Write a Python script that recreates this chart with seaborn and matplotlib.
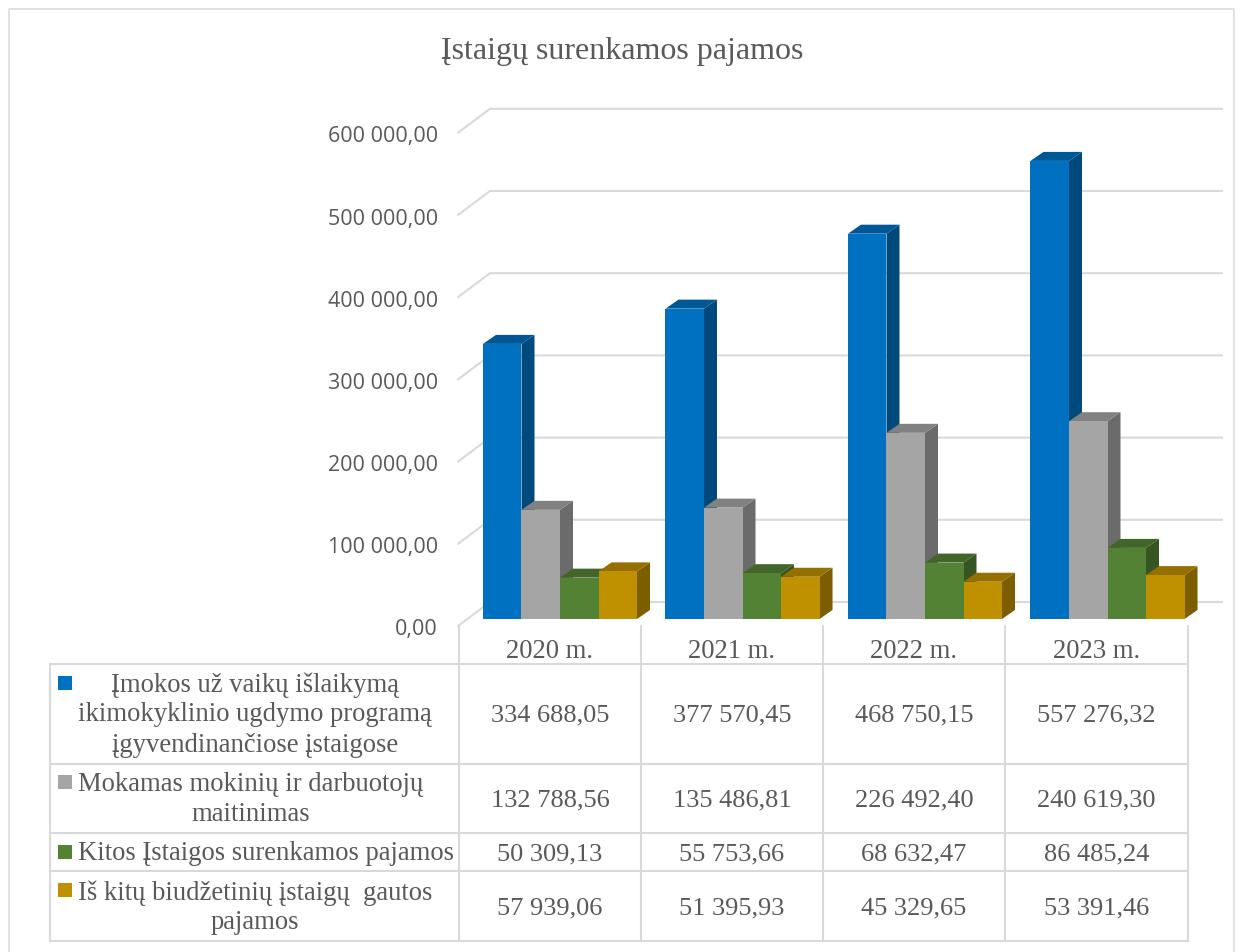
#!/usr/bin/env python3
# -*- coding: utf-8 -*-
import pandas as pd
import seaborn as sns
from matplotlib import pyplot as plt
from matplotlib.patches import Polygon, Rectangle
from matplotlib.transforms import IdentityTransform

title = 'Įstaigų surenkamos pajamos'
years = ['2020 m.', '2021 m.', '2022 m.', '2023 m.']
series_names = ['Įmokos', 'Maitinimas', 'Kitos', 'Iš kitų']
imokos = [334688.05, 377570.45, 468750.15, 557276.32]
maitinimas = [132788.56, 135486.81, 226492.40, 240619.30]
kitos = [50309.13, 55753.66, 68632.47, 86485.24]
is_kitu = [57939.06, 51395.93, 45329.65, 53391.46]
y_ticks = [0, 100000, 200000, 300000, 400000, 500000, 600000]
legend_labels = [
    ['Įmokos už vaikų išlaikymą', 'ikimokyklinio ugdymo programą', 'įgyvendinančiose įstaigose'],
    ['Mokamas mokinių ir darbuotojų', 'maitinimas'],
    ['Kitos Įstaigos surenkamos pajamos'],
    ['Iš kitų biudžetinių įstaigų  gautos', 'pajamos'],
]
colors = ['#0070C0', '#A5A5A5', '#548235', '#BF9000']

W, H = 1240, 953
GRID = '#D9D9D9'
TXT = '#595959'
SCALE = 0.000822  # pixels per unit of value
SERIF = 'Liberation Serif'

sns.set_theme(style='white')
plt.rcParams['font.family'] = ['Liberation Serif', 'DejaVu Sans']


def fmt(v):
    return f'{v:,.2f}'.replace(',', ' ').replace('.', ',')


def shade(hex_color, k):
    r, g, b = plt.matplotlib.colors.to_rgb(hex_color)
    return (r * k, g * k, b * k)


series_values = [imokos, maitinimas, kitos, is_kitu]
df = pd.DataFrame({
    'year': years * len(series_names),
    'series': [s for s in series_names for _ in years],
    'value': imokos + maitinimas + kitos + is_kitu,
})

fig = plt.figure(figsize=(W / 100, H / 100), dpi=100, facecolor='white')

# background layer in pixel coordinates: frame, walls, table
bg = fig.add_axes([0, 0, 1, 1], zorder=0)
bg.set_xlim(0, W)
bg.set_ylim(H - 1, -1)
bg.axis('off')

bg.plot([9, 9, 1234, 1234], [H, 9, 9, H], color=GRID, lw=1.1)
bg.text(622, 50, title, ha='center', va='center', fontsize=23, color=TXT, family=SERIF)

for v in y_ticks:
    py = SCALE * v
    bg.plot([458, 490, 1222], [626 - py, 602 - py, 602 - py], color=GRID, lw=1.5,
            solid_joinstyle='miter')
    bg.text(438, 629 - py, fmt(v), ha='right', va='center', fontsize=15.5, color=TXT,
            family='Open Sans')

# table
col_x = [459, 641, 823, 1005, 1188]
row_y = [664, 764, 833, 871, 941]
line_y = [[684, 714, 745], [784, 814], [853], [892, 922]]
line_x = [255, 251, 266, 255]
key_y = [683, 782, 852, 890]
value_y = [714, 799, 853, 907]

bg.plot([50, 1188], [row_y[0], row_y[0]], color=GRID, lw=1.5)
for y in row_y[1:]:
    bg.plot([50, 1188], [y, y], color=GRID, lw=1.5)
bg.plot([50, 50], [row_y[0], row_y[-1]], color=GRID, lw=1.5)
for x in col_x:
    bg.plot([x, x], [626, row_y[-1]], color=GRID, lw=1.5)

for i, year in enumerate(years):
    bg.text((col_x[i] + col_x[i + 1]) / 2, 651, year, ha='center', va='center',
            fontsize=19.2, color=TXT, family=SERIF)

for r, values in enumerate(series_values):
    bg.add_patch(Rectangle((58, key_y[r] - 7), 14, 14, color=colors[r], lw=0))
    for line, y in zip(legend_labels[r], line_y[r]):
        bg.text(line_x[r], y, line, ha='center', va='center', fontsize=19.2, color=TXT,
                family=SERIF)
    for i, v in enumerate(values):
        bg.text((col_x[i] + col_x[i + 1]) / 2, value_y[r], fmt(v), ha='center', va='center',
                fontsize=19, color=TXT, family=SERIF)

# bars, group centres sit at 560 px + 182.5 px per category
left, right, bottom, top = 459, 1222, 620, 100
ax = fig.add_axes([left / W, 1 - bottom / H, (right - left) / W, (bottom - top) / H], zorder=1)
ax.patch.set_alpha(0)
sns.barplot(data=df, x='year', y='value', hue='series', hue_order=series_names,
            palette=colors, saturation=1, width=0.844, gap=0, legend=False, linewidth=0, ax=ax)
ax.set_xlim((left - 560) / 182.5, (right - 560) / 182.5)
ax.set_ylim(0, (bottom - top) / SCALE)
ax.axis('off')

# fake 3D depth from the bars seaborn drew
DX, DY = 13, 9
for s, container in enumerate(ax.containers):
    for bar in container:
        x0, y0 = bar.get_x(), bar.get_y()
        x1, y1 = x0 + bar.get_width(), y0 + bar.get_height()
        (a, b), (c, d) = ax.transData.transform([(x0, y0), (x1, y1)])
        z = 3 + s * 2
        ax.add_patch(Polygon([(c, b), (c + DX, b + DY), (c + DX, d + DY), (c, d)],
                             transform=IdentityTransform(), facecolor=shade(colors[s], 0.65),
                             edgecolor='none', zorder=z, clip_on=False))
        ax.add_patch(Polygon([(a, d), (a + DX, d + DY), (c + DX, d + DY), (c, d)],
                             transform=IdentityTransform(), facecolor=shade(colors[s], 0.78),
                             edgecolor='none', zorder=z, clip_on=False))
        bar.set_zorder(z + 1)

fig.savefig('out.png', dpi=100)
